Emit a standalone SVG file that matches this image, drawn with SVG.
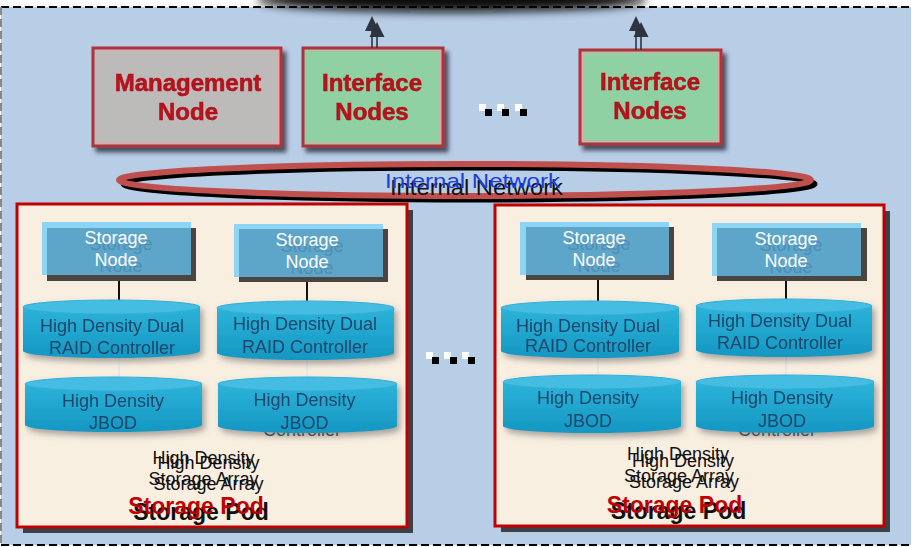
<svg xmlns="http://www.w3.org/2000/svg" width="912" height="547" viewBox="0 0 912 547">
<defs>
  <filter id="blurTop" x="-50%" y="-200%" width="200%" height="500%"><feGaussianBlur stdDeviation="5"/></filter>
  <filter id="boxShadow" x="-10%" y="-10%" width="130%" height="130%">
    <feDropShadow dx="4" dy="5" stdDeviation="2" flood-color="#2a3340" flood-opacity="0.8"/>
  </filter>
  <filter id="cylShadow" x="-10%" y="-20%" width="130%" height="150%">
    <feDropShadow dx="3" dy="4" stdDeviation="3" flood-color="#555" flood-opacity="0.5"/>
  </filter>
  <linearGradient id="cylBody" x1="0" y1="0" x2="0" y2="1">
    <stop offset="0" stop-color="#2cb3da"/>
    <stop offset="1" stop-color="#1497c2"/>
  </linearGradient>
  <style>
    .mgmt { fill:#bdbaba; stroke:#b0303a; stroke-width:3; }
    .iface { fill:#8fd1a3; stroke:#b0303a; stroke-width:3; }
    .inner { fill:none; stroke:#eaa4a8; stroke-width:1; }
    .boxtxt { font-family:"Liberation Sans", Arial, sans-serif; font-weight:bold; font-size:24px; fill:#b3121c; stroke:#b3121c; stroke-width:0.6; text-anchor:middle; }
    .pod { fill:#f9efe1; stroke:#c00000; stroke-width:3; }
    .podshadow { fill:#3b4149; }
    .snLight { fill:#8dd4f5; }
    .snMid { fill:#5ea6c9; }
    .snShadow { fill:#4a4540; }
    .snTxt { font-family:"Liberation Sans", Arial, sans-serif; font-size:18px; fill:#ffffff; text-anchor:middle; }
    .snGhost { font-family:"Liberation Sans", Arial, sans-serif; font-size:18px; fill:#4f8fb6; text-anchor:middle; }
    .cylBody { fill:url(#cylBody); }
    .cylTop { fill:#45bde2; stroke:#33aed6; stroke-width:1; }
    .cylTxt { font-family:"Liberation Sans", Arial, sans-serif; font-size:18px; fill:#1c476a; text-anchor:middle; }
    .podTxt { font-family:"Liberation Sans", Arial, sans-serif; font-size:18px; fill:#111; text-anchor:middle; }
    .podTitle { font-family:"Liberation Sans", Arial, sans-serif; font-size:23px; font-weight:bold; text-anchor:middle; }
    .link { stroke:#111; stroke-width:2; }
    .faint { stroke:#e4e8ea; stroke-width:2; }
    .arrowLine { stroke:#2e3540; stroke-width:1.6; }
    .arrowHead { fill:#2e3540; }
    .dotW { fill:#ffffff; }
    .dotB { fill:#000000; }
  </style>
</defs>

<!-- background -->
<rect x="0" y="0" width="912" height="547" fill="#ffffff"/>
<rect x="1" y="7" width="910" height="538" fill="#b8cde6"/>
<ellipse cx="452" cy="0" rx="195" ry="12" fill="#0a0a0a" filter="url(#blurTop)"/>
<line x1="1" y1="7" x2="912" y2="7" stroke="#000" stroke-width="2" stroke-dasharray="8 4"/>
<line x1="1" y1="545" x2="912" y2="545" stroke="#000" stroke-width="2" stroke-dasharray="8 4"/>
<line x1="1" y1="7" x2="1" y2="545" stroke="#888" stroke-width="2" stroke-dasharray="8 4"/>

<!-- top nodes -->
<g id="management-node" filter="url(#boxShadow)">
  <rect class="mgmt" x="93" y="48" width="188" height="98"/>
  <rect class="inner" x="95.5" y="50.5" width="183" height="93"/>
  <text class="boxtxt" x="188" y="91">Management</text>
  <text class="boxtxt" x="188" y="120">Node</text>
</g>
<g id="interface-nodes-1" filter="url(#boxShadow)">
  <rect class="iface" x="303" y="48" width="140" height="98"/>
  <rect class="inner" x="305.5" y="50.5" width="135" height="93"/>
  <text class="boxtxt" x="372" y="91">Interface</text>
  <text class="boxtxt" x="372" y="120">Nodes</text>
</g>
<g id="interface-nodes-2" filter="url(#boxShadow)">
  <rect class="iface" x="580" y="50" width="141" height="94"/>
  <rect class="inner" x="582.5" y="52.5" width="136" height="89"/>
  <text class="boxtxt" x="650" y="90">Interface</text>
  <text class="boxtxt" x="650" y="119">Nodes</text>
</g>

<!-- ellipsis dots -->
<g id="dots-top">
  <rect class="dotW" x="479" y="104" width="7" height="7"/>
  <rect class="dotB" x="485" y="109" width="7" height="7"/>
  <rect class="dotW" x="497" y="104" width="7" height="7"/>
  <rect class="dotB" x="502" y="109" width="7" height="7"/>
  <rect class="dotW" x="515" y="104" width="7" height="7"/>
  <rect class="dotB" x="520" y="109" width="7" height="7"/>
</g>

<!-- internal network -->
<g id="internal-network">
  <ellipse cx="469" cy="184" rx="346" ry="16" fill="none" stroke="#000" stroke-width="5"/>
  <ellipse cx="465" cy="180" rx="346" ry="16" fill="none" stroke="#c0504d" stroke-width="6"/>
  <text x="390" y="195" font-family="Liberation Sans, Arial, sans-serif" font-size="22" fill="#111" textLength="173" lengthAdjust="spacingAndGlyphs">Internal Network</text>
  <text x="385" y="188" font-family="Liberation Sans, Arial, sans-serif" font-size="21" fill="#1a3fd8" textLength="175" lengthAdjust="spacingAndGlyphs">Internal Network</text>
</g>

<!-- left storage pod -->
<g id="storage-pod-left">
  <rect class="podshadow" x="23" y="210" width="390" height="323"/>
  <rect class="pod" x="17" y="204" width="390" height="323"/>
  <text class="podTxt" x="203.5" y="464">High Density</text>
  <text class="podTxt" x="208.5" y="469">High Density</text>
  <text class="podTxt" x="203.5" y="485">Storage Array</text>
  <text class="podTxt" x="208.5" y="490">Storage Array</text>
  <text class="podTitle" x="201" y="520" fill="#111">Storage Pod</text>
  <text class="podTitle" x="196" y="514" fill="#c00000">Storage Pod</text>
</g>

<!-- right storage pod -->
<g id="storage-pod-right">
  <rect class="podshadow" x="501" y="211" width="389" height="321"/>
  <rect class="pod" x="495" y="205" width="389" height="321"/>
  <text class="podTxt" x="678" y="460">High Density</text>
  <text class="podTxt" x="683" y="467">High Density</text>
  <text class="podTxt" x="679" y="482">Storage Array</text>
  <text class="podTxt" x="684" y="488">Storage Array</text>
  <text class="podTitle" x="678.5" y="519" fill="#111">Storage Pod</text>
  <text class="podTitle" x="674.5" y="513" fill="#c00000">Storage Pod</text>
</g>

<!-- ellipsis dots middle -->
<g id="dots-middle">
  <rect class="dotW" x="426" y="352" width="7" height="7"/>
  <rect class="dotB" x="432" y="357" width="7" height="7"/>
  <rect class="dotW" x="444" y="352" width="7" height="7"/>
  <rect class="dotB" x="450" y="357" width="7" height="7"/>
  <rect class="dotW" x="462" y="352" width="7" height="7"/>
  <rect class="dotB" x="468" y="357" width="7" height="7"/>
</g>

<!-- storage nodes -->
<g id="storage-node-l1">
  <rect class="snShadow" x="47" y="228" width="149" height="53"/>
  <rect class="snLight" x="42" y="222" width="149" height="53"/>
  <rect class="snMid" x="47" y="228" width="144" height="47"/>
  <text class="snGhost" x="121" y="250">Storage</text>
  <text class="snGhost" x="121" y="272">Node</text>
  <text class="snTxt" x="116" y="244">Storage</text>
  <text class="snTxt" x="116" y="266">Node</text>
</g>
<g id="storage-node-l2">
  <rect class="snShadow" x="239" y="229" width="149" height="53"/>
  <rect class="snLight" x="234" y="224" width="149" height="53"/>
  <rect class="snMid" x="239" y="229" width="144" height="48"/>
  <text class="snGhost" x="312" y="252">Storage</text>
  <text class="snGhost" x="312" y="274">Node</text>
  <text class="snTxt" x="307" y="246">Storage</text>
  <text class="snTxt" x="307" y="268">Node</text>
</g>
<g id="storage-node-r1">
  <rect class="snShadow" x="526" y="227" width="148" height="53"/>
  <rect class="snLight" x="520" y="222" width="149" height="53"/>
  <rect class="snMid" x="526" y="227" width="143" height="48"/>
  <text class="snGhost" x="599" y="250">Storage</text>
  <text class="snGhost" x="599" y="272">Node</text>
  <text class="snTxt" x="594" y="244">Storage</text>
  <text class="snTxt" x="594" y="266">Node</text>
</g>
<g id="storage-node-r2">
  <rect class="snShadow" x="717" y="228" width="150" height="53"/>
  <rect class="snLight" x="712" y="223" width="149" height="53"/>
  <rect class="snMid" x="717" y="228" width="144" height="48"/>
  <text class="snGhost" x="791" y="251">Storage</text>
  <text class="snGhost" x="791" y="273">Node</text>
  <text class="snTxt" x="786" y="245">Storage</text>
  <text class="snTxt" x="786" y="267">Node</text>
</g>

<!-- connectors -->
<g id="connectors">
  <line class="arrowLine" x1="372" y1="48" x2="372" y2="30"/>
  <polygon class="arrowHead" points="372,16 379,31 365,31"/>
  <line class="arrowLine" x1="377" y1="48" x2="377" y2="36"/>
  <polygon class="arrowHead" points="377,22 384.5,37 369.5,37"/>
  <line class="arrowLine" x1="636" y1="50" x2="636" y2="30"/>
  <polygon class="arrowHead" points="636,16 643,31 629,31"/>
  <line class="arrowLine" x1="641" y1="50" x2="641" y2="36"/>
  <polygon class="arrowHead" points="641,22 648.5,37 633.5,37"/>
  <line class="link" x1="119" y1="281" x2="119" y2="301"/>
  <line class="link" x1="307" y1="282" x2="307" y2="302"/>
  <line class="link" x1="598" y1="280" x2="598" y2="302"/>
  <line class="link" x1="786" y1="281" x2="786" y2="300"/>
  <line class="faint" x1="119" y1="357" x2="119" y2="378"/>
  <line class="faint" x1="307" y1="359" x2="307" y2="378"/>
  <line class="faint" x1="598" y1="357" x2="598" y2="376"/>
  <line class="faint" x1="786" y1="356" x2="786" y2="376"/>
</g>

<!-- cylinders -->
<g id="raid-l1" filter="url(#cylShadow)">
  <path class="cylBody" d="M23,307 L23,351 A88.5,7 0 0 0 200,351 L200,307 Z"/>
  <ellipse class="cylTop" cx="111.5" cy="307" rx="88.5" ry="7"/>
  <text class="cylTxt" x="112" y="332">High Density Dual</text>
  <text class="cylTxt" x="112" y="354">RAID Controller</text>
</g>
<g id="raid-l2" filter="url(#cylShadow)">
  <path class="cylBody" d="M217,308 L217,353 A88.5,7 0 0 0 394,353 L394,308 Z"/>
  <ellipse class="cylTop" cx="305.5" cy="308" rx="88.5" ry="7"/>
  <text class="cylTxt" x="305" y="330">High Density Dual</text>
  <text class="cylTxt" x="305" y="353">RAID Controller</text>
</g>
<g id="jbod-l1" filter="url(#cylShadow)">
  <path class="cylBody" d="M25,384 L25,425 A88.5,7 0 0 0 202,425 L202,384 Z"/>
  <ellipse class="cylTop" cx="113.5" cy="384" rx="88.5" ry="7"/>
  <text class="cylTxt" x="113" y="407">High Density</text>
  <text class="cylTxt" x="113" y="429">JBOD</text>
</g>
<g id="jbod-l2">
  <text class="podTxt" x="302" y="436" fill-opacity="0.8">Controller</text>
  <g filter="url(#cylShadow)">
    <path class="cylBody" d="M218,384 L218,426 A89.5,7 0 0 0 397,426 L397,384 Z"/>
    <ellipse class="cylTop" cx="307.5" cy="384" rx="89.5" ry="7"/>
    <text class="cylTxt" x="304.5" y="406">High Density</text>
    <text class="cylTxt" x="304.5" y="429">JBOD</text>
  </g>
</g>
<g id="raid-r1" filter="url(#cylShadow)">
  <path class="cylBody" d="M501,308 L501,351 A89,7 0 0 0 679,351 L679,308 Z"/>
  <ellipse class="cylTop" cx="590" cy="308" rx="89" ry="7"/>
  <text class="cylTxt" x="588" y="332">High Density Dual</text>
  <text class="cylTxt" x="588" y="352">RAID Controller</text>
</g>
<g id="raid-r2" filter="url(#cylShadow)">
  <path class="cylBody" d="M696,306 L696,350 A88,7 0 0 0 872,350 L872,306 Z"/>
  <ellipse class="cylTop" cx="784" cy="306" rx="88" ry="7"/>
  <text class="cylTxt" x="780" y="327">High Density Dual</text>
  <text class="cylTxt" x="780" y="349">RAID Controller</text>
</g>
<g id="jbod-r1" filter="url(#cylShadow)">
  <path class="cylBody" d="M503,382 L503,426 A89,7 0 0 0 681,426 L681,382 Z"/>
  <ellipse class="cylTop" cx="592" cy="382" rx="89" ry="7"/>
  <text class="cylTxt" x="588" y="404">High Density</text>
  <text class="cylTxt" x="588" y="427">JBOD</text>
</g>
<g id="jbod-r2">
  <text class="podTxt" x="777" y="436" fill-opacity="0.8">Controller</text>
  <g filter="url(#cylShadow)">
    <path class="cylBody" d="M696,382 L696,426 A89,7 0 0 0 874,426 L874,382 Z"/>
    <ellipse class="cylTop" cx="785" cy="382" rx="89" ry="7"/>
    <text class="cylTxt" x="782" y="404">High Density</text>
    <text class="cylTxt" x="782" y="427">JBOD</text>
  </g>
</g>
</svg>
